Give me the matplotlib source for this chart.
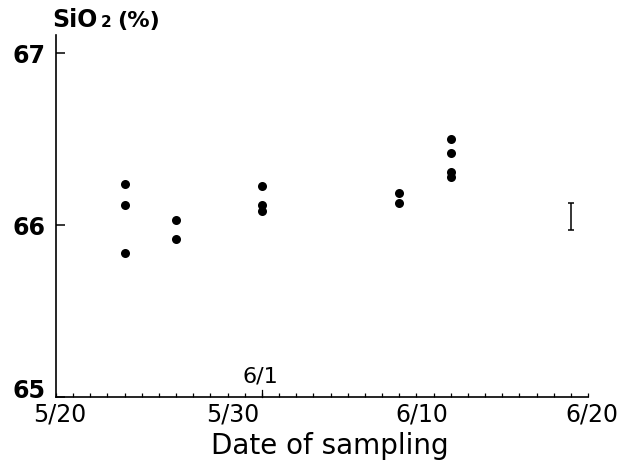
import numpy as np
import matplotlib.pyplot as plt

plt.rcParams["font.family"] = ["DejaVu Sans"]

# sampling dates (days after 5/20) and SiO2 content (%)
sample_dates = ["5/24", "5/27", "6/1", "6/9", "6/12"]
sample_days = [4, 7, 12, 20, 23]
sio2_values = [
    [66.24, 66.12, 65.84],
    [66.03, 65.92],
    [66.23, 66.12, 66.08],
    [66.19, 66.13],
    [66.50, 66.42, 66.31, 66.28],
]

# analytical error bar
err_day = 30
err_center = 66.05
err_half = 0.08

date_labels = ["5/20", "5/30", "6/10", "6/20"]
date_label_pos = [0.2, 10.3, 21.3, 31.2]
y_ticks = [65, 66, 67]

W, H = 626, 463
fig = plt.figure(figsize=(W / 100, H / 100), dpi=100)
ax = fig.add_axes([56 / W, (H - 397) / H, 532 / W, 362 / H])

for day, vals in zip(sample_days, sio2_values):
    ax.plot([day] * len(vals), vals, "o", color="black", ms=6.5, mew=0)

ax.errorbar([err_day], [err_center], yerr=[err_half], fmt="none",
            ecolor="black", elinewidth=1.1, capsize=2.3, capthick=1.1)

ax.set_xlim(0, 31)
ax.set_ylim(65, 67.107)
for side in ("top", "right"):
    ax.spines[side].set_visible(False)
for side in ("left", "bottom"):
    ax.spines[side].set_linewidth(1.2)

ax.set_yticks(y_ticks)
ax.set_yticklabels([])
ax.tick_params(axis="y", direction="in", length=6.5, width=1.1)
# y labels drawn by hand so the bottom one can sit above the date row
for t in y_ticks:
    dy = 8 if t == y_ticks[0] else 0
    ax.annotate(str(t), xy=(0, t), xycoords=("axes fraction", "data"),
                xytext=(-10, dy), textcoords="offset pixels",
                ha="right", va="center_baseline", fontsize=17,
                fontweight="bold")

ax.set_xticks(np.arange(0, 32))
ax.set_xticklabels([])
ax.tick_params(axis="x", direction="in", length=3, width=0.9)
# a slightly longer tick on 6/1
ax.plot([12, 12], [0, 0.018], color="black", lw=0.9,
        transform=ax.get_xaxis_transform(), clip_on=False)

for lab, pos in zip(date_labels, date_label_pos):
    ax.text(pos, -0.015, lab, transform=ax.get_xaxis_transform(),
            ha="center", va="top", fontsize=17)
fig.text(260 / W, 1 - 382 / H, "6/1", ha="center", va="baseline",
         fontsize=16)

fig.text(330 / W, 1 - 454 / H, "Date of sampling", ha="center",
         va="baseline", fontsize=20)

# y-axis unit label, SiO2 with a small subscript
fig.text(52 / W, 1 - 27 / H, "SiO", ha="left", va="baseline",
         fontsize=17, fontweight="bold")
fig.text(101 / W, 1 - 27 / H, "2", ha="left", va="baseline",
         fontsize=11, fontweight="bold")
fig.text(117 / W, 1 - 27 / H, "(%)", ha="left", va="baseline",
         fontsize=16, fontweight="bold")

fig.savefig("out.png", dpi=100)
